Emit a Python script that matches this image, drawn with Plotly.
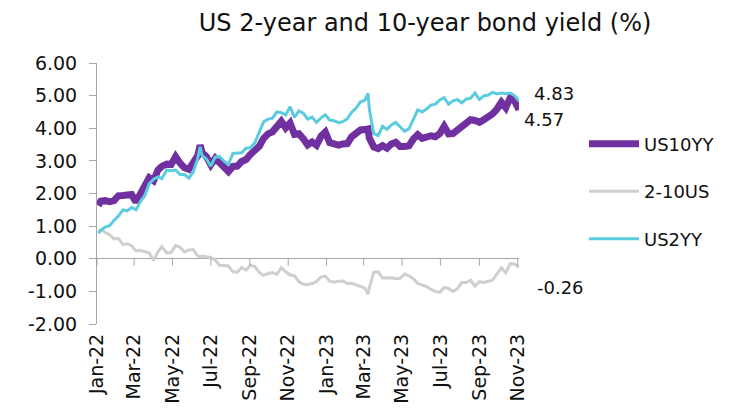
"""US 2-year and 10-year bond yield chart."""

import plotly.graph_objects as go

COLOR_10Y = "#7030A0"
COLOR_2Y = "#5BCBDE"
COLOR_SPREAD = "#D0CECE"
COLOR_AXIS = "#A6A6A6"
COLOR_TEXT = "#111111"
FONT = "DejaVu Sans, sans-serif"

dates = [
    "2022-01-03", "2022-01-07", "2022-01-14", "2022-01-21", "2022-01-28",
    "2022-02-04", "2022-02-11", "2022-02-18", "2022-02-25", "2022-03-04",
    "2022-03-11", "2022-03-18", "2022-03-25", "2022-04-01", "2022-04-08",
    "2022-04-14", "2022-04-22", "2022-04-29", "2022-05-06", "2022-05-13",
    "2022-05-20", "2022-05-27", "2022-06-03", "2022-06-10", "2022-06-14",
    "2022-06-17", "2022-06-24", "2022-07-01", "2022-07-08", "2022-07-15",
    "2022-07-22", "2022-07-29", "2022-08-05", "2022-08-12", "2022-08-19",
    "2022-08-26", "2022-09-02", "2022-09-09", "2022-09-16", "2022-09-23",
    "2022-09-30", "2022-10-07", "2022-10-14", "2022-10-21", "2022-10-28",
    "2022-11-04", "2022-11-11", "2022-11-18", "2022-11-25", "2022-12-02",
    "2022-12-09", "2022-12-16", "2022-12-23", "2022-12-30", "2023-01-06",
    "2023-01-13", "2023-01-20", "2023-01-27", "2023-02-03", "2023-02-10",
    "2023-02-17", "2023-02-24", "2023-03-03", "2023-03-08", "2023-03-10",
    "2023-03-17", "2023-03-24", "2023-03-31", "2023-04-07", "2023-04-14",
    "2023-04-21", "2023-04-28", "2023-05-05", "2023-05-12", "2023-05-19",
    "2023-05-26", "2023-06-02", "2023-06-09", "2023-06-16", "2023-06-23",
    "2023-06-30", "2023-07-07", "2023-07-14", "2023-07-21", "2023-07-28",
    "2023-08-04", "2023-08-11", "2023-08-18", "2023-08-25", "2023-09-01",
    "2023-09-08", "2023-09-15", "2023-09-22", "2023-09-29", "2023-10-06",
    "2023-10-13", "2023-10-20", "2023-10-27", "2023-11-03",
]

us10yy = [
    1.63, 1.76, 1.78, 1.75, 1.78, 1.93, 1.94, 1.93, 1.97, 1.74,
    2.00, 2.15, 2.48, 2.39, 2.72, 2.83, 2.90, 2.89, 3.13, 2.93,
    2.79, 2.74, 2.94, 3.15, 3.48, 3.25, 3.13, 2.88, 3.08, 2.93,
    2.78, 2.67, 2.83, 2.84, 2.98, 3.04, 3.20, 3.32, 3.45, 3.69,
    3.83, 3.89, 4.02, 4.21, 4.01, 4.16, 3.81, 3.83, 3.68, 3.49,
    3.58, 3.48, 3.75, 3.88, 3.56, 3.51, 3.48, 3.52, 3.53, 3.74,
    3.82, 3.95, 3.96, 3.98, 3.70, 3.43, 3.38, 3.47, 3.39, 3.52,
    3.57, 3.44, 3.44, 3.46, 3.67, 3.80, 3.69, 3.74, 3.77, 3.74,
    3.84, 4.06, 3.83, 3.84, 3.96, 4.05, 4.16, 4.26, 4.24, 4.18,
    4.26, 4.33, 4.44, 4.59, 4.80, 4.63, 4.93, 4.84, 4.57,
]

us2yy = [
    0.78, 0.87, 0.97, 1.01, 1.17, 1.31, 1.50, 1.47, 1.57, 1.50,
    1.75, 1.94, 2.30, 2.44, 2.51, 2.46, 2.72, 2.70, 2.72, 2.58,
    2.58, 2.47, 2.66, 3.06, 3.43, 3.17, 3.06, 2.84, 3.12, 3.13,
    2.99, 2.89, 3.23, 3.25, 3.25, 3.39, 3.40, 3.56, 3.87, 4.20,
    4.28, 4.31, 4.50, 4.48, 4.41, 4.66, 4.33, 4.53, 4.46, 4.28,
    4.34, 4.18, 4.31, 4.41, 4.25, 4.23, 4.17, 4.20, 4.29, 4.49,
    4.62, 4.81, 4.86, 5.07, 4.59, 3.84, 3.78, 4.06, 3.97, 4.10,
    4.18, 4.04, 3.91, 3.98, 4.28, 4.56, 4.50, 4.59, 4.71, 4.74,
    4.87, 4.94, 4.74, 4.84, 4.88, 4.78, 4.89, 4.92, 5.08, 4.88,
    4.99, 5.02, 5.10, 5.05, 5.08, 5.06, 5.08, 5.00, 4.83,
]

spread_2_10 = [
    0.85, 0.89, 0.81, 0.74, 0.61, 0.62, 0.44, 0.46, 0.40, 0.24,
    0.25, 0.21, 0.18, -0.05, 0.21, 0.37, 0.18, 0.19, 0.41, 0.35,
    0.21, 0.27, 0.28, 0.09, 0.05, 0.08, 0.07, 0.04, -0.04, -0.20,
    -0.21, -0.22, -0.40, -0.41, -0.27, -0.35, -0.20, -0.24, -0.42, -0.51,
    -0.45, -0.42, -0.48, -0.27, -0.40, -0.50, -0.52, -0.70, -0.78, -0.79,
    -0.76, -0.70, -0.56, -0.53, -0.69, -0.72, -0.69, -0.68, -0.76, -0.75,
    -0.80, -0.86, -0.90, -1.09, -0.89, -0.41, -0.40, -0.59, -0.58, -0.58,
    -0.61, -0.60, -0.47, -0.52, -0.61, -0.76, -0.81, -0.85, -0.94, -1.00,
    -1.03, -0.88, -0.91, -1.00, -0.92, -0.73, -0.73, -0.66, -0.84, -0.70,
    -0.73, -0.69, -0.66, -0.46, -0.28, -0.43, -0.15, -0.16, -0.26,
]

tick_dates = [
    "2022-01-01", "2022-03-01", "2022-05-01", "2022-07-01", "2022-09-01",
    "2022-11-01", "2023-01-01", "2023-03-01", "2023-05-01", "2023-07-01",
    "2023-09-01", "2023-11-01",
]
tick_labels = [
    "Jan-22", "Mar-22", "May-22", "Jul-22", "Sep-22", "Nov-22",
    "Jan-23", "Mar-23", "May-23", "Jul-23", "Sep-23", "Nov-23",
]

y_ticks = [-2, -1, 0, 1, 2, 3, 4, 5, 6]
y_tick_labels = ["-2.00", "-1.00", "0.00", "1.00", "2.00", "3.00", "4.00", "5.00", "6.00"]

series = [
    ("US10YY", us10yy, COLOR_10Y, 7),
    ("2-10US", spread_2_10, COLOR_SPREAD, 3),
    ("US2YY", us2yy, COLOR_2Y, 3),
]

fig = go.Figure()
for name, values, color, width in series:
    fig.add_trace(
        go.Scatter(
            x=dates,
            y=values,
            mode="lines",
            name=name,
            legendgroup=name,
            line=dict(color=color, width=width),
        )
    )

# end-of-series value labels
for values, xshift, yshift in [(us2yy, 13, 8), (us10yy, 3, -10), (spread_2_10, 16, -20)]:
    fig.add_annotation(
        x=dates[-1],
        y=values[-1],
        text=f"{values[-1]:.2f}",
        showarrow=False,
        xanchor="left",
        yanchor="middle",
        xshift=xshift,
        yshift=yshift,
        font=dict(size=18, color=COLOR_TEXT),
    )

# Excel-style tick marks hanging from the zero line
for d in tick_dates:
    fig.add_shape(
        type="line",
        xref="x",
        yref="y",
        x0=d,
        x1=d,
        ysizemode="pixel",
        yanchor=0,
        y0=0,
        y1=-7,
        line=dict(color=COLOR_AXIS, width=1),
    )

# page body adds an 8px offset, so the figure is 8px smaller than the window
fig.update_layout(
    width=733,
    height=401,
    paper_bgcolor="white",
    plot_bgcolor="white",
    font=dict(family=FONT, size=16, color=COLOR_TEXT),
    title=dict(
        text="US 2-year and 10-year bond yield (%)",
        x=0.569,
        xanchor="center",
        y=0.963,
        yanchor="middle",
        font=dict(size=24, color=COLOR_TEXT),
    ),
    margin=dict(l=89, r=222, t=55, b=85),
    showlegend=True,
    legend=dict(
        x=1.154,
        xanchor="left",
        y=0.76,
        yanchor="top",
        traceorder="grouped",
        tracegroupgap=21,
        itemwidth=50,
        font=dict(size=18),
        bgcolor="rgba(0,0,0,0)",
    ),
)
fig.update_xaxes(
    type="date",
    range=["2022-01-01", "2023-11-03"],
    tickmode="array",
    tickvals=tick_dates,
    ticktext=tick_labels,
    tickangle=-90,
    ticks="",
    ticklabelstandoff=5,
    showline=False,
    showgrid=False,
    zeroline=False,
    automargin=False,
    tickfont=dict(size=19),
)
fig.update_yaxes(
    range=[-2, 6],
    tickmode="array",
    tickvals=y_ticks,
    ticktext=y_tick_labels,
    ticks="outside",
    ticklen=7,
    tickcolor=COLOR_AXIS,
    ticklabelstandoff=8,
    showline=True,
    linecolor=COLOR_AXIS,
    linewidth=1,
    showgrid=False,
    zeroline=True,
    zerolinecolor=COLOR_AXIS,
    zerolinewidth=1,
    automargin=False,
    tickfont=dict(size=19),
)

fig.write_html("out.html")
